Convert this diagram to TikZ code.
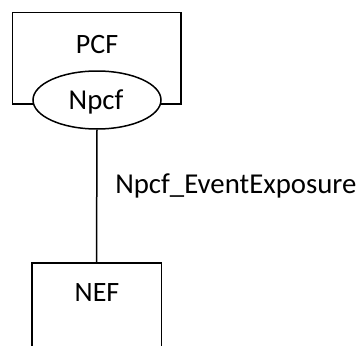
\documentclass[tikz,border=0pt]{standalone}
\usepackage{fontspec}
\setmainfont{Carlito}
\usetikzlibrary{shapes.geometric}
\begin{document}
\begin{tikzpicture}[x=1pt,y=-1pt,line width=1.5pt,
  every node/.style={font=\fontsize{28}{34}\selectfont, inner sep=0pt},
  bigtext/.style={font=\fontsize{28.8}{34}\selectfont},
  boxnode/.style={draw, rectangle},
  ifnode/.style={draw, ellipse, fill=white, minimum width=128pt, minimum height=58pt}]
\useasboundingbox (0,0) rectangle (363,345);
\clip (0,0) rectangle (363,345);
% PCF box
\node[boxnode, minimum width=168.5pt, minimum height=91.5pt] (pcf) at (96.75,58.25) {};
\node (pcftext) at (97,45) {PCF};
% Npcf interface
\node[ifnode] (npcf) at (97,100) {};
\node[bigtext] (npcftext) at (96,102) {Npcf};
% NEF box (open at bottom)
\node[minimum width=128pt, minimum height=100pt, anchor=north] (nef) at (96.5,263) {};
\draw (nef.south west) -- (nef.north west) -- (nef.north east) -- (nef.south east);
\node (neftext) at (97,293) {NEF};
% connector
\draw (npcf.south) -- (nef.north);
\node[bigtext, anchor=west] (lbl) at (114.5,186) {Npcf\_EventExposure};
\end{tikzpicture}
\end{document}
